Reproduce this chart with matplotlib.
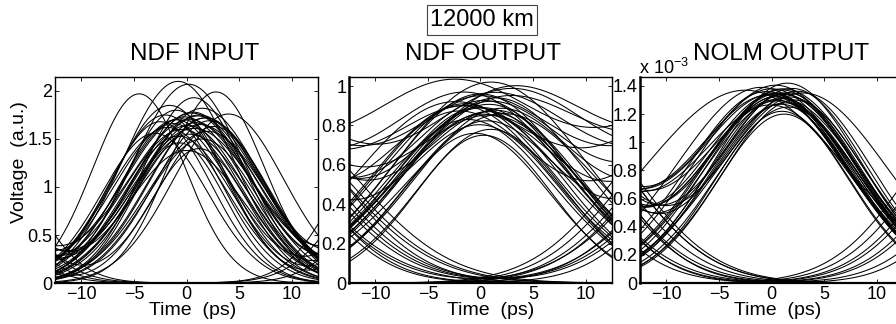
import matplotlib
matplotlib.use("Agg")
import matplotlib.pyplot as plt
import numpy as np

plt.rcParams['font.family'] = ['Liberation Sans', 'DejaVu Sans']
plt.rcParams['mathtext.default'] = 'regular'

PERIOD = 25.0  # ps, bit slot
t = np.linspace(-12.5, 12.5, 500)

# ---- NDF INPUT: pulse height, pulse centre (ps), width (ps), neighbour bits
in_amp = [2.10, 2.07, 1.97, 1.99, 1.93, 1.85, 1.82, 1.80, 1.78, 1.76, 1.75, 1.74,
          1.73, 1.72, 1.71, 1.70, 1.69, 1.68, 1.67, 1.66, 1.65, 1.64, 1.63, 1.62,
          1.61, 1.60, 1.58, 1.56, 1.55, 1.53, 1.50, 1.46, 1.40, 1.38, 1.75, 1.70,
          1.77, 1.72, 0, 0, 0, 0, 0, 0, 0, 0]
in_pos = [-0.8, 0.2, -4.5, 2.8, 0.7, -1.6, 1.5, -1.0, 0.6, 4.0, -2.0, 1.1,
          -0.2, 1.8, -0.6, 0.3, 2.2, -2.5, 0.9, -1.3, 1.3, 0.1, 2.6, -1.8,
          0.7, -0.4, 2.0, -3.0, 0.3, -0.8, 1.5, -0.7, 1.2, 0.0, 1.2, -1.0,
          0.5, 1.8, 4.5, -4.0, 2.0, -2.0, 0.0, 3.5, -5.5, 1.0]
in_width = [5.3, 5.3, 4.4, 4.6, 4.9, 5.2, 5.6, 4.9, 5.6, 5.3, 5.2, 5.6,
            5.8, 5.5, 5.6, 6.0, 5.3, 4.9, 5.6, 5.6, 5.8, 5.5, 5.2, 5.5,
            6.0, 5.6, 5.6, 5.0, 5.6, 5.2, 5.2, 4.4, 4.6, 5.5, 5.8, 5.3,
            5.6, 5.4, 5.0, 5.3, 5.6, 5.3, 5.6, 5.3, 4.9, 5.6]
in_left = [0, 1.8, 0, 0, 0, 1.7, 0, 0, 1.7, 0, 0, 0,
           1.7, 0, 0, 1.7, 0, 1.6, 0, 0, 1.7, 0, 1.7, 0,
           0, 1.7, 0, 0, 1.6, 0, 0, 0, 1.7, 0, 1.7, 0,
           0, 0, 1.8, 0, 1.7, 0, 1.6, 0, 0, 1.7]
in_right = [1.7, 0, 0, 1.7, 0, 0, 0, 1.7, 1.7, 1.6, 0, 1.7,
            0, 0, 0, 1.7, 1.7, 0, 0, 1.7, 0, 0, 1.7, 0,
            1.7, 0, 0, 0, 0, 1.7, 0, 0, 0, 0, 1.7, 0,
            1.7, 0, 0, 1.6, 0, 1.7, 0, 1.6, 1.7, 0]

# ---- NDF OUTPUT
out_amp = [1.02, 0.98, 0.97, 0.96, 0.95, 0.95, 0.94, 0.93, 0.92, 0.92, 0.91, 0.90,
           0.90, 0.89, 0.88, 0.88, 0.87, 0.86, 0.86, 0.85, 0.84, 0.83, 0.82, 0.80,
           0.78, 0.76, 0.75, 0.93, 0.89, 0.91, 0.87, 0.90,
           0, 0, 0, 0, 0, 0, 0, 0, 0, 0, 0, 0, 0, 0, 0, 0]
out_pos = [1.0, -2.5, 2.5, 0.0, -1.0, 3.0, 1.5, -0.5, 0.5, 2.0, -1.5, 1.0,
           -3.0, 0.2, 1.8, -0.8, 0.8, -2.0, 2.2, 0.0, 1.2, -1.2, 0.5, 0.0,
           1.0, -0.5, 0.3, 1.4, -0.3, 0.7, 1.6, -1.8,
           3.0, 1.5, 0.0, -1.0, 4.0, -3.0, 2.0, -2.0, 0.5, 2.5, -4.0, 1.0,
           1.0, -1.5, 3.5, -0.5]
out_width = [9.0, 9.5, 9.5, 8.5, 9.0, 9.0, 8.5, 9.0, 8.0, 9.5, 8.5, 8.0,
             9.0, 8.5, 8.0, 9.0, 8.5, 8.0, 9.0, 8.0, 8.5, 8.0, 7.5, 7.5,
             7.0, 7.0, 6.5, 9.0, 8.0, 8.5, 8.0, 8.5,
             9.0, 8.5, 8.0, 9.0, 9.0, 8.0, 8.5, 8.0, 7.5, 9.0, 8.0, 8.5,
             7.5, 8.0, 8.0, 8.5]
out_left = [0, 0.85, 0, 0, 0.85, 0.9, 0, 0, 0.9, 0, 0, 0.9,
            0, 0, 0, 0.9, 0, 0.85, 0, 0, 0.9, 0, 0, 0.9,
            0, 0, 0, 0.9, 0, 0, 0.9, 0,
            0.9, 0.9, 0, 0.9, 0.9, 0, 0.9, 0, 0.9, 0.9, 0, 0.9,
            0.9, 0, 0.9, 0.9]
out_right = [0, 0.9, 0.9, 0, 0, 0.9, 0, 0.9, 0, 0.9, 0, 0,
             0.9, 0, 0.9, 0, 0, 0.9, 0, 0.9, 0, 0, 0.9, 0,
             0, 0, 0, 0.9, 0, 0.9, 0, 0,
             0, 0.9, 0.9, 0, 0, 0.9, 0.9, 0.9, 0, 0, 0.9, 0.9,
             0.9, 0.9, 0, 0.9]

# ---- NOLM OUTPUT (x 10^-3)
nolm_amp = [1.42, 1.40, 1.39, 1.38, 1.38, 1.37, 1.36, 1.36, 1.35, 1.35, 1.34, 1.34,
            1.33, 1.33, 1.32, 1.31, 1.30, 1.30, 1.29, 1.28, 1.27, 1.26, 1.25, 1.22,
            1.20, 1.37, 1.35, 1.32, 1.38, 1.34,
            0, 0, 0, 0, 0, 0, 0, 0, 0, 0, 0, 0, 0, 0, 0, 0]
nolm_pos = [1.5, 0.5, -1.0, 2.0, 0.0, 1.0, -0.5, 2.5, 0.8, 1.5, 0.2, 1.2,
            -0.2, 0.6, 1.8, 1.0, 0.4, 2.2, 0.7, 1.3, 0.9, 0.0, 1.6, 1.0,
            1.2, -2.5, 3.0, 0.5, 1.1, 0.3,
            3.0, 1.5, 0.0, -1.0, 3.5, -3.0, 2.0, -2.0, 0.5, 3.0, -4.0, 1.0,
            2.5, -1.5, 1.5, -0.5]
nolm_width = [7.0, 7.5, 8.0, 7.0, 7.5, 7.0, 7.5, 7.0, 7.5, 6.8, 7.5, 7.0,
              7.5, 7.0, 6.8, 7.5, 7.0, 6.8, 7.5, 7.0, 6.8, 7.5, 6.8, 6.3,
              6.3, 9.5, 8.0, 7.0, 7.5, 7.0,
              8.0, 7.5, 7.5, 8.0, 8.0, 7.5, 8.0, 7.5, 7.0, 8.0, 7.5, 8.0,
              7.0, 7.5, 7.0, 7.5]
nolm_left = [0, 1.35, 0, 1.35, 0, 1.35, 0, 1.35, 0, 1.35, 1.35, 0,
             1.35, 0, 1.35, 0, 1.35, 0, 1.35, 0, 0, 1.35, 0, 0,
             0, 0, 0, 1.35, 0, 1.35,
             1.35, 1.35, 0, 1.35, 1.35, 0, 1.35, 0, 1.35, 1.35, 0, 1.35,
             1.35, 1.35, 0, 1.35]
nolm_right = [0, 0, 0, 0, 0, 0, 0, 0, 0, 0, 0, 0,
              0, 0, 0, 0, 0, 0, 0, 0, 0, 0, 0, 0,
              0, 0, 0, 0, 0, 0,
              0, 1.35, 1.35, 0, 0, 1.35, 0, 1.35, 0, 0, 1.35, 0,
              0, 1.35, 1.35, 1.35]


def trace(a, c, s, l, r):
    g = lambda mu: np.exp(-(t - mu) ** 2 / (2 * s * s))
    return a * g(c) + l * g(c - PERIOD) + r * g(c + PERIOD)


fig = plt.figure(figsize=(8.96, 3.24), dpi=100)

panels = [
    (in_amp, in_pos, in_width, in_left, in_right, 0.0614, 2.146,
     [0, 0.5, 1, 1.5, 2], ['0', '0.5', '1', '1.5', '2'], 'NDF INPUT', 0.53, 0.525),
    (out_amp, out_pos, out_width, out_left, out_right, 0.3895, 1.046,
     [0, 0.2, 0.4, 0.6, 0.8, 1], ['0', '0.2', '0.4', '0.6', '0.8', '1'], 'NDF OUTPUT', 0.51, 0.54),
    (nolm_amp, nolm_pos, nolm_width, nolm_left, nolm_right, 0.7143, 1.464,
     [0, 0.2, 0.4, 0.6, 0.8, 1, 1.2, 1.4], ['0', '0.2', '0.4', '0.6', '0.8', '1', '1.2', '1.4'],
     'NOLM OUTPUT', 0.536, 0.525),
]

axes = []
for i, (amp, pos, wid, lft, rgt, x0, ytop, yt, ytl, title, tx, lx) in enumerate(panels):
    ax = fig.add_axes([x0, 0.1265, 0.2935, 0.636])
    for a, c, s, l, r in zip(amp, pos, wid, lft, rgt):
        ax.plot(t, trace(a, c, s, l, r), color='black', lw=0.75)
    ax.set_xlim(-12.5, 12.5)
    ax.set_ylim(0, ytop)
    ax.set_xticks([-10, -5, 0, 5, 10])
    ax.set_yticks(yt)
    ax.set_yticklabels(ytl)
    ax.tick_params(direction='in', top=True, right=True, length=3, width=0.6,
                   labelsize=13)
    ax.tick_params(axis='y', pad=2)
    ax.tick_params(axis='x', pad=2.5)
    for sp in ax.spines.values():
        sp.set_linewidth(1.0)
    ax.spines['bottom'].set_linewidth(1.6)
    if i > 0:
        ax.spines['left'].set_linewidth(1.8)
    ax.text(tx, 1.11, title, transform=ax.transAxes, ha='center', va='center',
            fontsize=17.5)
    ax.text(lx, -0.135, 'Time  (ps)', transform=ax.transAxes, ha='center',
            va='center', fontsize=14)
    axes.append(ax)

axes[2].text(-0.005, 0.995, 'x 10$^{-3}$', transform=axes[2].transAxes,
             ha='left', va='bottom', fontsize=13)

fig.text(20 / 896, 1 - 162 / 324, 'Voltage  (a.u.)', rotation=90, ha='center',
         va='center', fontsize=14)

fig.text(482 / 896, 1 - 20 / 324, '12000 km', ha='center', va='center',
         fontsize=17,
         bbox=dict(boxstyle='square,pad=0.15', facecolor='white',
                   edgecolor='#444444', linewidth=0.8))

fig.savefig('out.png', dpi=100)
